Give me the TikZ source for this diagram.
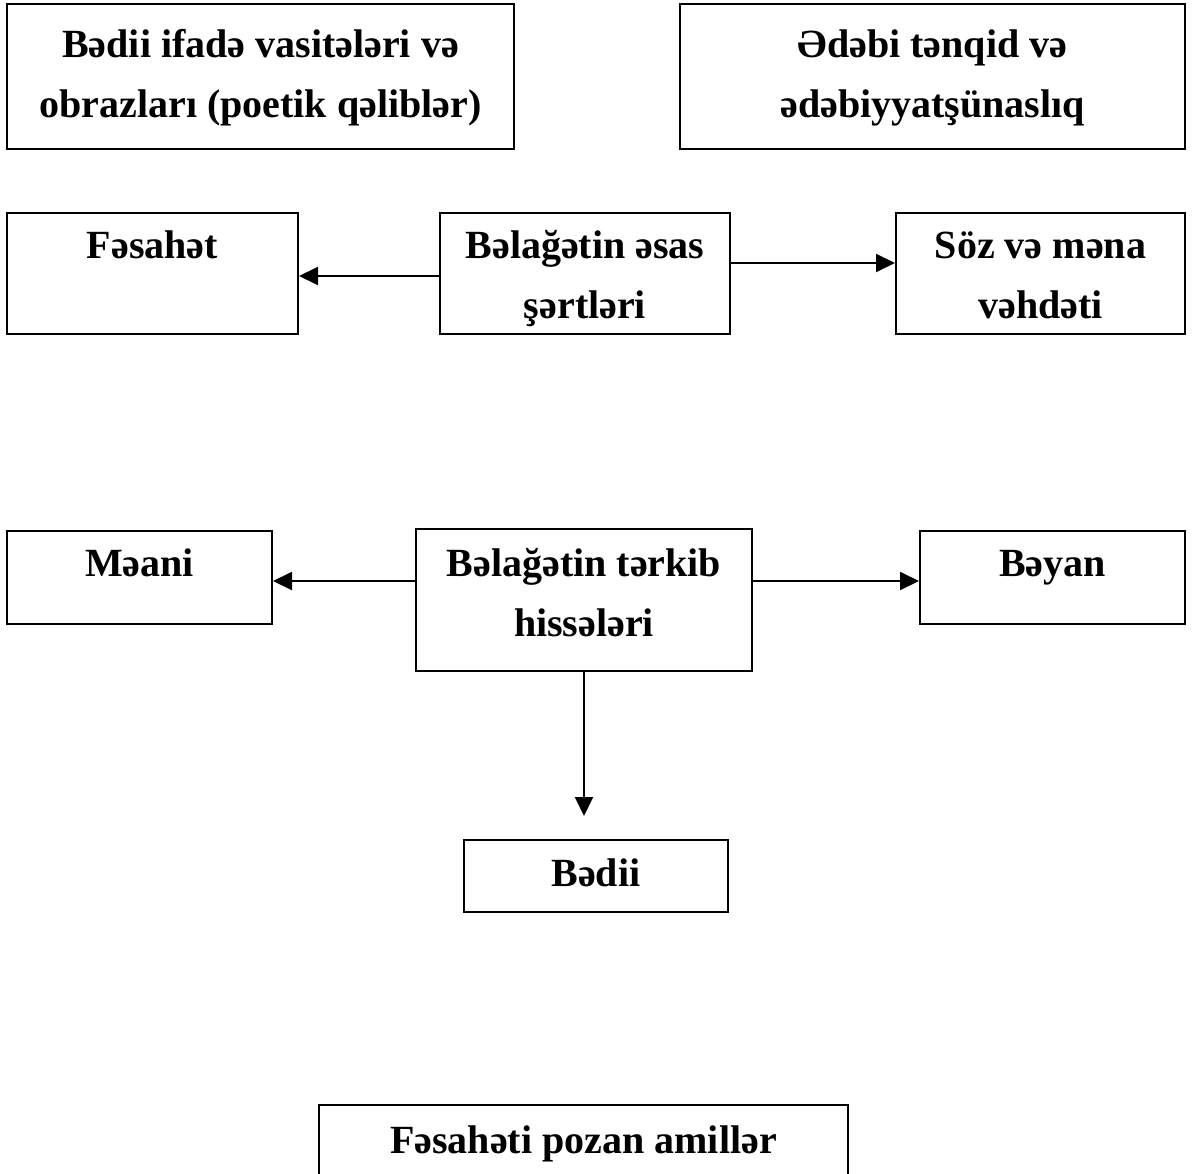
\documentclass[tikz,border=0pt]{standalone}
\usepackage{fontspec}
\setmainfont{Liberation Serif}
\usetikzlibrary{arrows.meta}
\begin{document}
\begin{tikzpicture}[x=1pt,y=-1pt,
  box/.style={draw,line width=2pt,rectangle,inner sep=0pt},
  txt/.style={anchor=base,inner sep=0pt,font=\fontsize{40}{48}\selectfont\bfseries},
  arr/.style={line width=2pt,-{Triangle[length=19pt,width=18pt]}}]
\useasboundingbox (0,0) rectangle (1192,1174);
\clip (0,0) rectangle (1192,1174);
\fill[white] (0,0) rectangle (1192,1174);
% boxes
\node[box,minimum width=507pt,minimum height=145pt] (b1) at (260.5,76.5) {};
\node[box,minimum width=505pt,minimum height=145pt] (b2) at (932.5,76.5) {};
\node[box,minimum width=291pt,minimum height=121pt] (fes) at (152.5,273.5) {};
\node[box,minimum width=290pt,minimum height=121pt] (ab) at (585,273.5) {};
\node[box,minimum width=289pt,minimum height=121pt] (soz) at (1040.5,273.5) {};
\node[box,minimum width=265pt,minimum height=93pt] (meani) at (139.5,577.5) {};
\node[box,minimum width=336pt,minimum height=142pt] (tb) at (584,600) {};
\node[box,minimum width=265pt,minimum height=93pt] (beyan) at (1052.5,577.5) {};
\node[box,minimum width=264pt,minimum height=72pt] (bedii) at (596,876) {};
\node[box,minimum width=529pt,minimum height=115pt] (last) at (583.5,1162.5) {};
% texts
\node[txt] (t1a) at (260.5,58) {Bədii ifadə vasitələri və};
\node[txt] (t1b) at (260.5,118) {obrazları (poetik qəliblər)};
\node[txt] (t2a) at (932.5,58) {Ədəbi tənqid və};
\node[txt] (t2b) at (932.5,118) {ədəbiyyatşünaslıq};
\node[txt] (t3) at (152.5,259) {Fəsahət};
\node[txt] (t4a) at (585,259) {Bəlağətin əsas};
\node[txt] (t4b) at (585,319) {şərtləri};
\node[txt] (t5a) at (1040.5,259) {Söz və məna};
\node[txt] (t5b) at (1040.5,319) {vəhdəti};
\node[txt] (t6) at (139.5,576) {Məani};
\node[txt] (t7a) at (584,576) {Bəlağətin tərkib};
\node[txt] (t7b) at (584,636) {hissələri};
\node[txt] (t8) at (1052.5,576) {Bəyan};
\node[txt] (t9) at (596,886) {Bədii};
\node[txt] (t10) at (583.5,1153) {Fəsahəti pozan amillər};
% connectors
\coordinate (ya) at (0,276);
\coordinate (yb) at (0,263);
\coordinate (yc) at (0,581);
\coordinate (downtip) at (584,816);
\draw[arr] (ab.west |- ya) -- (fes.east |- ya);
\draw[arr] (ab.east |- yb) -- (soz.west |- yb);
\draw[arr] (tb.west |- yc) -- (meani.east |- yc);
\draw[arr] (tb.east |- yc) -- (beyan.west |- yc);
\draw[arr] (tb.south) -- (downtip);
\end{tikzpicture}
\end{document}
